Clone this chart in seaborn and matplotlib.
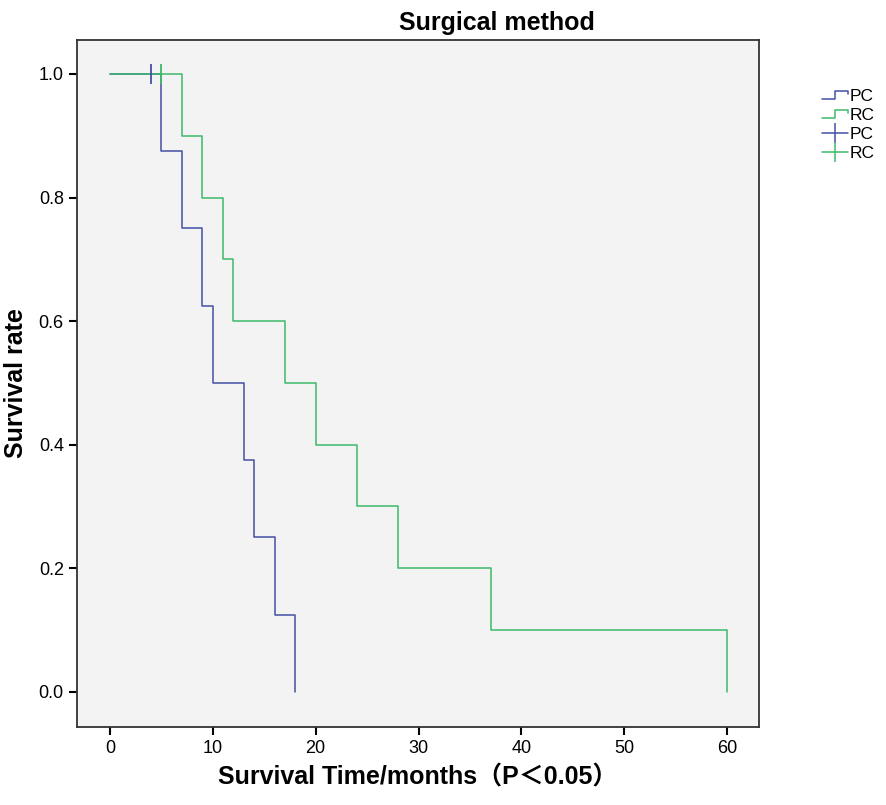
"""
Kaplan-Meier style survival curves by surgical method (PC vs RC).
"""

import numpy as np
import pandas as pd
import matplotlib
matplotlib.use("Agg")
import matplotlib.pyplot as plt
from matplotlib.lines import Line2D
from matplotlib.legend_handler import HandlerBase
import seaborn as sns

# ── Data ──────────────────────────────────────────────────────────────────────
GROUPS       = ["PC", "RC"]
PC_EVENTS    = [5, 7, 9, 10, 13, 14, 16, 18]
PC_CENSORED  = [4]
RC_EVENTS    = [7, 9, 11, 12, 17, 20, 24, 28, 37, 60]
RC_CENSORED  = [5]
X_TICKS      = [0, 10, 20, 30, 40, 50, 60]
Y_TICKS      = [0.0, 0.2, 0.4, 0.6, 0.8, 1.0]

COLORS = {"PC": "#4450a6", "RC": "#3dba6b"}


def km_table(events, censored, group):
    """Product-limit estimate; returns step rows and censor rows."""
    times = sorted([(t, 1) for t in events] + [(t, 0) for t in censored])
    at_risk = len(times)
    surv = 1.0
    steps = [(0.0, surv)]
    cens = []
    for t, ev in times:
        if ev:
            surv *= (at_risk - 1) / at_risk
            steps.append((t, surv))
        else:
            cens.append((t, surv))
        at_risk -= 1
    s = pd.DataFrame(steps, columns=["time", "surv"]).assign(group=group)
    c = pd.DataFrame(cens, columns=["time", "surv"]).assign(group=group)
    return s, c


class StepHandler(HandlerBase):
    def create_artists(self, legend, orig_handle, xdescent, ydescent,
                       width, height, fontsize, trans):
        xs = np.array([0.0, 0.5, 0.5, 1.0, 1.0]) * width - xdescent
        ys = np.array([0.2, 0.2, 0.85, 0.85, 0.6]) * height - ydescent
        ln = Line2D(xs, ys, color=orig_handle.get_color(), lw=1.1)
        ln.set_transform(trans)
        return [ln]


def main():
    pc_s, pc_c = km_table(PC_EVENTS, PC_CENSORED, "PC")
    rc_s, rc_c = km_table(RC_EVENTS, RC_CENSORED, "RC")
    steps = pd.concat([pc_s, rc_s], ignore_index=True)
    cens = pd.concat([pc_c, rc_c], ignore_index=True)

    sns.set_style("ticks")
    plt.rcParams["font.family"] = ["Liberation Sans", "Noto Sans CJK SC", "DejaVu Sans"]
    plt.rcParams["text.color"] = "black"
    plt.rcParams["axes.labelcolor"] = "black"

    fig = plt.figure(figsize=(8.86, 8.05), dpi=100)
    ax = fig.add_axes([0.0869, 0.0969, 0.7698, 0.8534])
    ax.set_facecolor("#f3f3f3")

    sns.lineplot(data=steps, x="time", y="surv", hue="group", hue_order=GROUPS,
                 palette=COLORS, drawstyle="steps-post", estimator=None,
                 linewidth=1.1, legend=False, ax=ax)
    sns.scatterplot(data=cens, x="time", y="surv", hue="group", hue_order=GROUPS,
                    palette=COLORS, marker="|", s=220, linewidth=1.3,
                    legend=False, ax=ax, zorder=3)

    ax.set_xlim(-3.2, 63.1)
    ax.set_ylim(-0.057, 1.055)
    ax.set_xticks(X_TICKS)
    ax.set_yticks(Y_TICKS)
    ax.set_yticklabels([f"{v:.1f}" for v in Y_TICKS])
    ax.tick_params(axis="both", direction="out", length=6, width=1.5,
                   labelsize=13, colors="black")
    for sp in ax.spines.values():
        sp.set_visible(True)
        sp.set_color("#333333")
        sp.set_linewidth(1.3)

    ax.set_xlabel("Survival Time/months（P＜0.05）", fontsize=18,
                  fontweight="bold", labelpad=6)
    ax.set_ylabel("Survival rate", fontsize=18, fontweight="bold", labelpad=8)
    fig.text(0.561, 0.972, "Surgical method", ha="center", va="center",
             fontsize=18, fontweight="bold")

    handles = [Line2D([], [], color=COLORS[g]) for g in GROUPS]
    handles += [Line2D([], [], color=COLORS[g], marker="|", markersize=14,
                       markeredgewidth=1.1, lw=1.1) for g in GROUPS]
    labels = GROUPS + GROUPS
    handler_map = {h: StepHandler() for h in handles[:2]}
    fig.legend(handles, labels, handler_map=handler_map, loc="upper left",
               bbox_to_anchor=(0.920, 0.898), frameon=False, fontsize=12.5,
               handlelength=1.5, handletextpad=0.1, labelspacing=0.22,
               borderaxespad=0)

    fig.savefig("out.png", dpi=100)


if __name__ == "__main__":
    main()
